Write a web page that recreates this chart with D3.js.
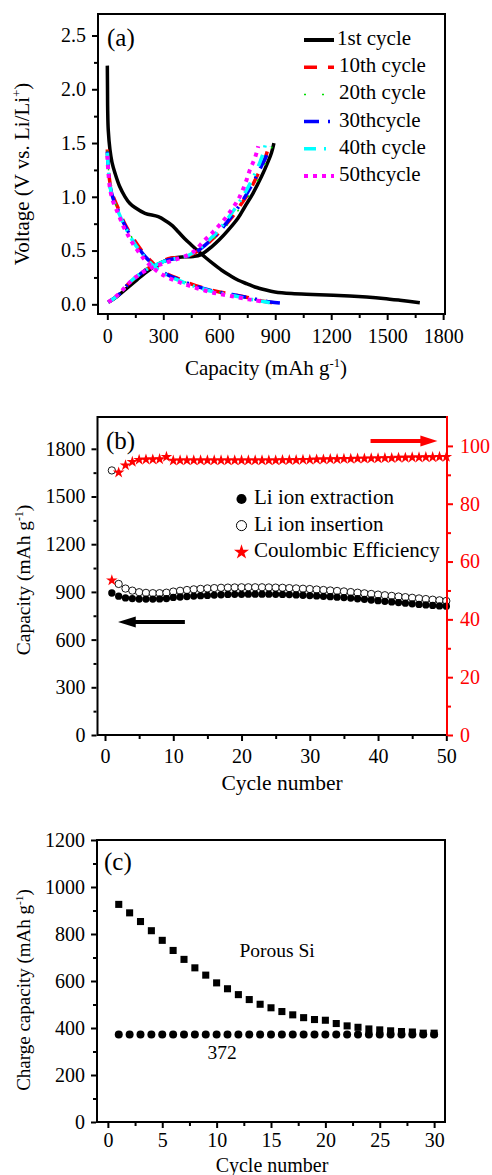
<!DOCTYPE html>
<html>
<head>
<meta charset="utf-8">
<script src="https://cdn.jsdelivr.net/npm/d3@7"></script>
<style>
  body { margin: 0; background: #fff; }
  svg text { font-family: "Liberation Serif", "Times New Roman", serif; fill: #000; }
  .axis path { display: none; }
  .axis line { stroke: #000; stroke-width: 2; }
</style>
</head>
<body>
<div id="chart"></div>
<script>
// ---------- data: panel (a), voltage profiles [capacity mAh/g, voltage V] ----------
const cycleNames = ['1st cycle', '10th cycle', '20th cycle', '30thcycle', '40th cycle', '50thcycle'];

const dis1 = [[0,2.22],[1,2.0],[2,1.8],[5,1.62],[14,1.44],[25,1.32],[41,1.22],[65,1.1],[95,1.0],[120,0.94],[148,0.9],[202,0.846],[273,0.815],[318,0.77],[350,0.73],[380,0.675],[415,0.61],[452,0.55],[490,0.49],[523,0.44],[565,0.38],[613,0.317],[660,0.265],[702,0.224],[750,0.19],[791,0.161],[845,0.135],[898,0.115],[988,0.10],[1100,0.092],[1211,0.085],[1300,0.078],[1390,0.068],[1480,0.055],[1568,0.038],[1675,0.015]];
const chg1 = [[5,0.02],[50,0.07],[112,0.16],[160,0.23],[202,0.29],[250,0.35],[291,0.39],[345,0.43],[400,0.44],[461,0.445],[500,0.46],[559,0.535],[600,0.6],[648,0.69],[700,0.8],[738,0.91],[780,1.03],[827,1.19],[860,1.32],[880,1.41],[893,1.5]];

const dis10 = [[0,1.44],[5,1.3],[14,1.13],[30,1.01],[59,0.89],[85,0.78],[112,0.69],[140,0.61],[175,0.52],[205,0.455],[238,0.395],[265,0.35],[291,0.317],[330,0.275],[380,0.24],[425,0.205],[470,0.177],[515,0.152],[559,0.13],[600,0.115],[648,0.10],[690,0.085],[738,0.068],[785,0.05],[827,0.031],[870,0.02],[898,0.015]];
const chg10 = [[5,0.02],[40,0.06],[80,0.12],[112,0.19],[150,0.245],[202,0.317],[250,0.365],[291,0.395],[320,0.42],[345,0.43],[390,0.435],[434,0.45],[470,0.48],[506,0.52],[550,0.585],[595,0.66],[640,0.75],[684,0.846],[720,0.94],[755,1.03],[790,1.15],[827,1.28],[850,1.38],[865,1.47],[870,1.5]];

const dis20 = [[0,1.43],[5,1.29],[14,1.12],[30,1.0],[59,0.88],[85,0.775],[112,0.685],[140,0.6],[175,0.515],[205,0.45],[238,0.39],[265,0.348],[291,0.313],[330,0.272],[380,0.236],[425,0.202],[470,0.174],[515,0.15],[559,0.128],[600,0.112],[648,0.097],[690,0.083],[738,0.066],[785,0.048],[827,0.03],[870,0.02],[900,0.015]];
const chg20 = [[5,0.02],[40,0.06],[80,0.12],[112,0.185],[150,0.24],[202,0.31],[250,0.36],[291,0.39],[320,0.41],[345,0.425],[390,0.432],[434,0.447],[470,0.475],[506,0.515],[550,0.575],[595,0.65],[640,0.735],[684,0.83],[720,0.92],[755,1.0],[790,1.1],[827,1.23],[855,1.34],[875,1.43],[889,1.5]];

const dis30 = [[0,1.42],[5,1.28],[14,1.11],[30,0.99],[59,0.87],[85,0.765],[112,0.675],[140,0.59],[175,0.505],[205,0.44],[238,0.382],[265,0.34],[291,0.307],[330,0.268],[380,0.232],[425,0.2],[470,0.172],[515,0.148],[559,0.127],[600,0.112],[648,0.097],[690,0.084],[738,0.068],[785,0.052],[827,0.036],[875,0.022],[925,0.012]];
const chg30 = [[5,0.02],[40,0.06],[80,0.12],[112,0.19],[150,0.245],[202,0.315],[250,0.36],[291,0.39],[320,0.41],[345,0.42],[390,0.43],[434,0.448],[470,0.48],[506,0.525],[550,0.59],[595,0.665],[640,0.76],[684,0.86],[720,0.95],[755,1.05],[790,1.16],[827,1.29],[850,1.37],[871,1.47]];

const dis40 = [[0,1.41],[5,1.27],[14,1.1],[30,0.98],[59,0.86],[85,0.755],[112,0.665],[140,0.58],[175,0.495],[205,0.43],[238,0.372],[265,0.332],[291,0.3],[330,0.26],[380,0.225],[425,0.193],[470,0.165],[515,0.142],[559,0.12],[600,0.105],[648,0.09],[690,0.075],[738,0.058],[785,0.042],[827,0.028],[871,0.015]];
const chg40 = [[5,0.02],[40,0.06],[80,0.125],[112,0.19],[150,0.25],[202,0.315],[250,0.36],[291,0.39],[320,0.41],[345,0.42],[390,0.435],[434,0.455],[470,0.49],[506,0.535],[550,0.605],[595,0.685],[640,0.785],[684,0.89],[720,0.985],[755,1.09],[790,1.21],[820,1.33],[840,1.43],[848,1.5]];

const dis50 = [[0,1.38],[5,1.24],[14,1.08],[30,0.96],[59,0.84],[85,0.73],[112,0.64],[140,0.555],[175,0.47],[205,0.405],[238,0.35],[265,0.31],[291,0.28],[330,0.245],[380,0.21],[425,0.18],[470,0.155],[515,0.132],[559,0.112],[600,0.097],[648,0.082],[690,0.068],[738,0.052],[785,0.038],[836,0.025]];
const chg50 = [[5,0.02],[40,0.065],[80,0.13],[112,0.19],[150,0.25],[202,0.31],[250,0.35],[291,0.375],[345,0.405],[390,0.43],[434,0.46],[470,0.5],[523,0.6],[565,0.67],[613,0.76],[666,0.88],[700,0.97],[720,1.04],[745,1.15],[764,1.25],[791,1.36],[809,1.47]];

// ---------- data: panel (b), cycling ----------
const extraction = [893,873,862,858,855,855,855,856,858,865,868,871,874,876,878,880,882,884,885,885,886,886,886,886,885,884,883,881,879,877,875,872,870,867,864,861,857,853,849,845,841,837,833,829,825,821,818,815,812,810];
const insertion = [1664,950,921,908,898,894,892,892,895,902,907,912,916,919,922,924,926,927,928,929,929,929,929,928,927,926,924,922,920,918,915,912,909,906,903,899,895,891,887,883,879,875,871,867,863,859,855,851,847,843];
const efficiency = [53.5,90.8,93.3,94.5,95.2,95.3,95.3,95.4,96.2,94.9,95.0,95.0,95.0,95.0,95.0,95.0,95.0,95.0,95.0,95.0,95.0,95.0,95.0,95.0,95.0,95.1,95.1,95.1,95.2,95.2,95.3,95.3,95.4,95.4,95.5,95.5,95.6,95.6,95.7,95.7,95.8,95.8,95.9,95.9,96.0,96.0,96.1,96.1,96.2,96.2];
const bLegend = ['Li ion extraction', 'Li ion insertion', 'Coulombic Efficiency'];

// ---------- data: panel (c), charge capacity ----------
const porousSi = [926,890,853,814,773,730,692,656,625,592,567,542,521,501,486,470,456,444,436,433,419,409,403,396,392,388,385,383,378,378];
const graphite = [372,372,372,372,372,372,372,372,372,372,372,372,372,372,372,372,372,372,372,372,372,372,372,372,372,372,372,372,372,372];

// ---------- tick values ----------
const aXTicks = [0,300,600,900,1200,1500,1800];
const aYTicks = [0,0.5,1.0,1.5,2.0,2.5];
const bXTicks = [0,10,20,30,40,50];
const bYTicks = [0,300,600,900,1200,1500,1800];
const bRTicks = [0,20,40,60,80,100];
const cXTicks = [0,5,10,15,20,25,30];
const cYTicks = [0,200,400,600,800,1000,1200];

const W = 492, H = 1175;
let svg = d3.select('#chart').append('svg').attr('width', W).attr('height', H);

// minor ticks halfway between majors
let minors = (ticks) => ticks.slice(1).map((t, i) => (t + ticks[i]) / 2);

let drawAxis = (g, axisFn, scale, ticks, fmt, pad, transform, color) => {
  let major = g.append('g').attr('class', 'axis').attr('transform', transform)
    .call(axisFn(scale).tickValues(ticks).tickFormat(fmt).tickSize(5).tickSizeOuter(0).tickPadding(pad));
  major.selectAll('text').style('font-size', '20px').style('fill', color || '#000');
  g.append('g').attr('class', 'axis').attr('transform', transform)
    .call(axisFn(scale).tickValues(minors(ticks)).tickFormat('').tickSize(3).tickSizeOuter(0));
  if (color) g.selectAll('.axis line').filter(function() { return this.parentNode.parentNode.getAttribute('transform') === transform; }).style('stroke', color);
  return major;
}

let frame = (g, x0, x1, y0, y1, rightColor) => {
  g.append('path').attr('d', `M${x1},${y0}H${x0}V${y1}H${x1}`).attr('fill', 'none').attr('stroke', '#000').attr('stroke-width', 2);
  g.append('line').attr('x1', x1).attr('x2', x1).attr('y1', y0 - (rightColor ? 1 : 1)).attr('y2', y1 + 1)
    .attr('stroke', rightColor || '#000').attr('stroke-width', 2);
}

let yTitle = (g, x, y, size, main, sup, tail) => {
  let t = g.append('text').attr('transform', `translate(${x},${y}) rotate(-90)`)
    .attr('text-anchor', 'middle').style('font-size', size + 'px');
  t.append('tspan').text(main);
  t.append('tspan').attr('dy', -size * 0.38).style('font-size', (size * 0.6) + 'px').text(sup);
  t.append('tspan').attr('dy', size * 0.38).text(tail);
}
let xTitle = (g, x, y, size, main, sup, tail) => {
  let t = g.append('text').attr('x', x).attr('y', y).attr('text-anchor', 'middle').style('font-size', size + 'px');
  t.append('tspan').text(main);
  if (sup) {
    t.append('tspan').attr('dy', -size * 0.38).style('font-size', (size * 0.6) + 'px').text(sup);
    t.append('tspan').attr('dy', size * 0.38).text(tail);
  }
}

// ================= Panel (a) =================
{
  let g = svg.append('g');
  let x = d3.scaleLinear().domain([-50, 1810]).range([98, 445]);
  let y = d3.scaleLinear().domain([-0.09, 2.7]).range([314, 14]);

  let styles = [
    {color: '#000', width: 3.5, dash: null},
    {color: '#ff0000', width: 3.5, dash: '13,11'},
    {color: '#00dd00', width: 1.5, dash: '2,16'},
    {color: '#0000ff', width: 3.5, dash: '15,9,2,9'},
    {color: '#00ffff', width: 3.5, dash: '12,8,2,8'},
    {color: '#ff00ff', width: 4, dash: '4,5'}
  ];
  let series = [[dis1, chg1], [dis10, chg10], [dis20, chg20], [dis30, chg30], [dis40, chg40], [dis50, chg50]];

  let line = d3.line().x(d => x(d[0])).y(d => y(d[1])).curve(d3.curveMonotoneX);
  let lineY = d3.line().x(d => x(d[0])).y(d => y(d[1])).curve(d3.curveCatmullRom.alpha(0.5));

  series.forEach((pair, i) => {
    pair.forEach((s) => {
      g.append('path').attr('d', lineY(s))
        .attr('fill', 'none').attr('stroke', styles[i].color).attr('stroke-width', styles[i].width)
        .attr('stroke-dasharray', styles[i].dash).attr('stroke-linejoin', 'round');
    });
  });

  frame(g, 98, 445, 14, 314);
  drawAxis(g, d3.axisBottom, x, aXTicks, d3.format('d'), 9, 'translate(0,315)');
  drawAxis(g, d3.axisLeft, y, aYTicks, d3.format('.1f'), 6, 'translate(97,0)');

  g.append('text').attr('x', 107).attr('y', 46).style('font-size', '25px').text('(a)');

  // legend
  cycleNames.forEach((name, i) => {
    let ly = 45 + i * 27.2;
    g.append('line').attr('x1', 304).attr('x2', 334).attr('y1', ly - 5).attr('y2', ly - 5)
      .attr('stroke', styles[i].color).attr('stroke-width', i == 0 ? 4 : styles[i].width)
      .attr('stroke-dasharray', styles[i].dash);
    g.append('text').attr('x', i == 0 ? 337 : 339).attr('y', ly).style('font-size', '21px').text(name);
  });

  yTitle(g, 29, 174, 21, 'Voltage (V vs. Li/Li', '+', ')');
  xTitle(g, 266, 375, 21, 'Capacity (mAh g', '-1', ')');
}

// ================= Panel (b) =================
{
  let g = svg.append('g');
  let x = d3.scaleLinear().domain([-1.1, 50.1]).range([97.5, 447]);
  let yL = d3.scaleLinear().domain([0, 2000]).range([735, 417]);
  let yR = d3.scaleLinear().domain([0, 110]).range([735, 417]);
  let cycles = d3.range(1, 51);

  let circle = d3.symbol().type(d3.symbolCircle).size(42);
  let star = d3.symbol().type(d3.symbolStar).size(42);

  g.selectAll('.ins').data(cycles).enter().append('path')
    .attr('transform', d => `translate(${x(d)},${yL(insertion[d - 1])})`)
    .attr('d', circle).attr('fill', '#fff').attr('stroke', '#000').attr('stroke-width', 0.9);
  g.selectAll('.ext').data(cycles).enter().append('path')
    .attr('transform', d => `translate(${x(d)},${yL(extraction[d - 1])})`)
    .attr('d', circle).attr('fill', '#000');
  g.selectAll('.ce').data(cycles).enter().append('path')
    .attr('transform', d => `translate(${x(d)},${yR(efficiency[d - 1])})`)
    .attr('d', star).attr('fill', '#ff0000');

  frame(g, 97.5, 447, 417, 735, '#ff0000');
  drawAxis(g, d3.axisBottom, x, bXTicks, d3.format('d'), 8, 'translate(0,736)');
  drawAxis(g, d3.axisLeft, yL, bYTicks, d3.format('d'), 6, 'translate(96.5,0)');
  let r = drawAxis(g, d3.axisRight, yR, bRTicks, d3.format('d'), 7, 'translate(448,0)', '#ff0000');
  g.selectAll('.axis').filter(function() { return this.getAttribute('transform') === 'translate(448,0)'; })
    .selectAll('line').style('stroke', '#ff0000');

  g.append('text').attr('x', 106).attr('y', 449).style('font-size', '25px').text('(b)');

  // arrows
  let ay = yR(101.7);
  g.append('line').attr('x1', x(38.9)).attr('x2', x(46.5)).attr('y1', ay).attr('y2', ay).attr('stroke', '#ff0000').attr('stroke-width', 4);
  g.append('path').attr('d', `M${x(48.7)},${ay}L${x(46.2)},${ay - 5.5}L${x(46.2)},${ay + 5.5}Z`).attr('fill', '#ff0000');
  let by = yL(711);
  g.append('line').attr('x1', x(11.7)).attr('x2', x(4.2)).attr('y1', by).attr('y2', by).attr('stroke', '#000').attr('stroke-width', 4);
  g.append('path').attr('d', `M${x(1.9)},${by}L${x(4.5)},${by - 5.5}L${x(4.5)},${by + 5.5}Z`).attr('fill', '#000');

  // legend
  let legSym = [
    {d: circle, fill: '#000', stroke: 'none'},
    {d: circle, fill: '#fff', stroke: '#000'},
    {d: d3.symbol().type(d3.symbolStar).size(70), fill: '#ff0000', stroke: 'none'}
  ];
  bLegend.forEach((name, i) => {
    let ly = 504 + i * 26.6;
    g.append('path').attr('transform', `translate(241.5,${ly - 5})`)
      .attr('d', i == 2 ? legSym[i].d : d3.symbol().type(d3.symbolCircle).size(80))
      .attr('fill', legSym[i].fill).attr('stroke', legSym[i].stroke);
    g.append('text').attr('x', 254).attr('y', ly).style('font-size', '21px').text(name);
  });

  yTitle(g, 30, 580, 19.5, 'Capacity (mAh g', '-1', ')');
  xTitle(g, 282, 790, 21.5, 'Cycle number');
}

// ================= Panel (c) =================
{
  let g = svg.append('g');
  let x = d3.scaleLinear().domain([-1, 31]).range([97, 445]);
  let y = d3.scaleLinear().domain([0, 1200]).range([1122, 840]);
  let cycles = d3.range(1, 31);

  g.selectAll('.gr').data(cycles).enter().append('path')
    .attr('transform', d => `translate(${x(d)},${y(graphite[d - 1])})`)
    .attr('d', d3.symbol().type(d3.symbolCircle).size(50)).attr('fill', '#000');
  g.selectAll('.si').data(cycles).enter().append('path')
    .attr('transform', d => `translate(${x(d)},${y(porousSi[d - 1])})`)
    .attr('d', d3.symbol().type(d3.symbolSquare).size(50)).attr('fill', '#000');

  frame(g, 97, 445, 840, 1122);
  drawAxis(g, d3.axisBottom, x, cXTicks, d3.format('d'), 5, 'translate(0,1123)');
  drawAxis(g, d3.axisLeft, y, cYTicks, d3.format('d'), 6, 'translate(96,0)');

  g.append('text').attr('x', 104).attr('y', 870).style('font-size', '25px').text('(c)');
  g.append('text').attr('x', x(12.1)).attr('y', y(702)).style('font-size', '19.5px').text('Porous Si');
  g.append('text').attr('x', x(9.17)).attr('y', y(267)).style('font-size', '19.5px').text('372');

  yTitle(g, 30, 990, 19, 'Charge capacity (mAh g', '-1', ')');
  xTitle(g, 272, 1172, 20, 'Cycle number');
}
</script>
</body>
</html>
